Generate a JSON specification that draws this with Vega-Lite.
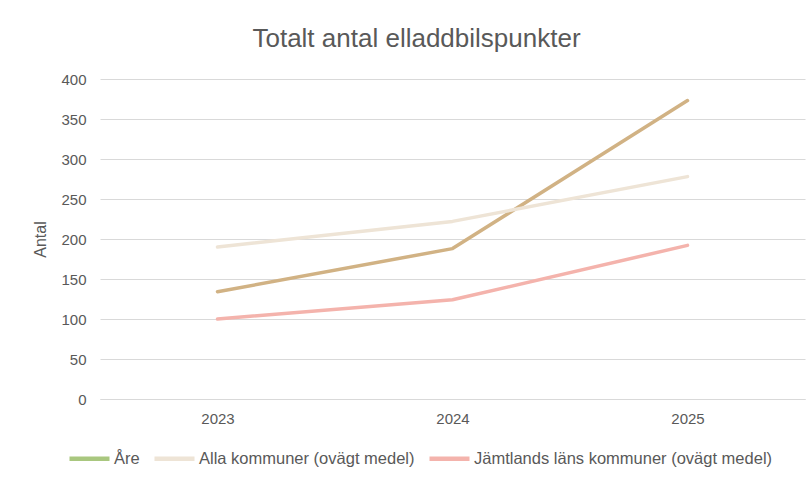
{
  "$schema": "https://vega.github.io/schema/vega-lite/v6.json",
  "width": 705,
  "height": 320,
  "autosize": {"type": "none"},
  "padding": {"left": 100, "top": 79, "right": 6, "bottom": 78},
  "background": "white",
  "title": {
    "text": "Totalt antal elladdbilspunkter",
    "font": "Liberation Sans, Arial",
    "fontSize": 26,
    "fontWeight": "normal",
    "color": "#595959",
    "anchor": "middle",
    "dx": -36,
    "offset": 20
  },
  "data": {
    "values": [
      {"year": "2023", "serie": "Åre", "value": 134},
      {"year": "2024", "serie": "Åre", "value": 188},
      {"year": "2025", "serie": "Åre", "value": 373},
      {"year": "2023", "serie": "Alla kommuner (ovägt medel)", "value": 190},
      {"year": "2024", "serie": "Alla kommuner (ovägt medel)", "value": 222},
      {"year": "2025", "serie": "Alla kommuner (ovägt medel)", "value": 278},
      {"year": "2023", "serie": "Jämtlands läns kommuner (ovägt medel)", "value": 100},
      {"year": "2024", "serie": "Jämtlands läns kommuner (ovägt medel)", "value": 124},
      {"year": "2025", "serie": "Jämtlands läns kommuner (ovägt medel)", "value": 192}
    ]
  },
  "encoding": {
    "x": {
      "field": "year",
      "type": "ordinal",
      "scale": {"paddingInner": 0, "paddingOuter": 0},
      "axis": {
        "title": null,
        "labelAngle": 0,
        "ticks": false,
        "domain": true,
        "domainColor": "#D9D9D9",
        "domainWidth": 1,
        "labelPadding": 12,
        "labelFont": "Liberation Sans, Arial",
        "labelFontSize": 15,
        "labelColor": "#595959",
        "grid": false
      }
    },
    "y": {
      "field": "value",
      "type": "quantitative",
      "scale": {"domain": [0, 400]},
      "axis": {
        "title": "Antal",
        "titleFont": "Liberation Sans, Arial",
        "titleFontSize": 16,
        "titleFontWeight": "normal",
        "titleColor": "#595959",
        "titlePadding": 12,
        "values": [0, 50, 100, 150, 200, 250, 300, 350, 400],
        "ticks": false,
        "domain": false,
        "labelPadding": 14,
        "labelFont": "Liberation Sans, Arial",
        "labelFontSize": 15,
        "labelColor": "#595959",
        "grid": true,
        "gridColor": "#D9D9D9",
        "gridWidth": 1
      }
    }
  },
  "layer": [
    {
      "mark": {"type": "line", "strokeWidth": 1.5},
      "encoding": {
        "color": {
          "field": "serie",
          "type": "nominal",
          "scale": {
            "domain": ["Åre", "Alla kommuner (ovägt medel)", "Jämtlands läns kommuner (ovägt medel)"],
            "range": ["#A9C77F", "#EEE4D6", "#F4B3AC"]
          },
          "legend": {
            "title": null,
            "orient": "none",
            "direction": "horizontal",
            "legendX": -33,
            "legendY": 357,
            "symbolType": "stroke",
            "symbolSize": 1600,
            "symbolStrokeWidth": 4.5,
            "symbolOpacity": 1,
            "labelOffset": 2,
            "columnPadding": 5,
            "labelFont": "Liberation Sans, Arial",
            "labelFontSize": 16.5,
            "labelColor": "#595959",
            "labelLimit": 400
          }
        }
      }
    },
    {
      "mark": {"type": "line", "strokeWidth": 3.5, "strokeCap": "round", "strokeJoin": "round"},
      "encoding": {
        "stroke": {
          "field": "serie",
          "type": "nominal",
          "scale": {
            "domain": ["Åre", "Alla kommuner (ovägt medel)", "Jämtlands läns kommuner (ovägt medel)"],
            "range": ["#D1B284", "#EEE4D6", "#F4B3AC"]
          },
          "legend": null
        }
      }
    }
  ],
  "config": {
    "view": {"stroke": null}
  }
}
